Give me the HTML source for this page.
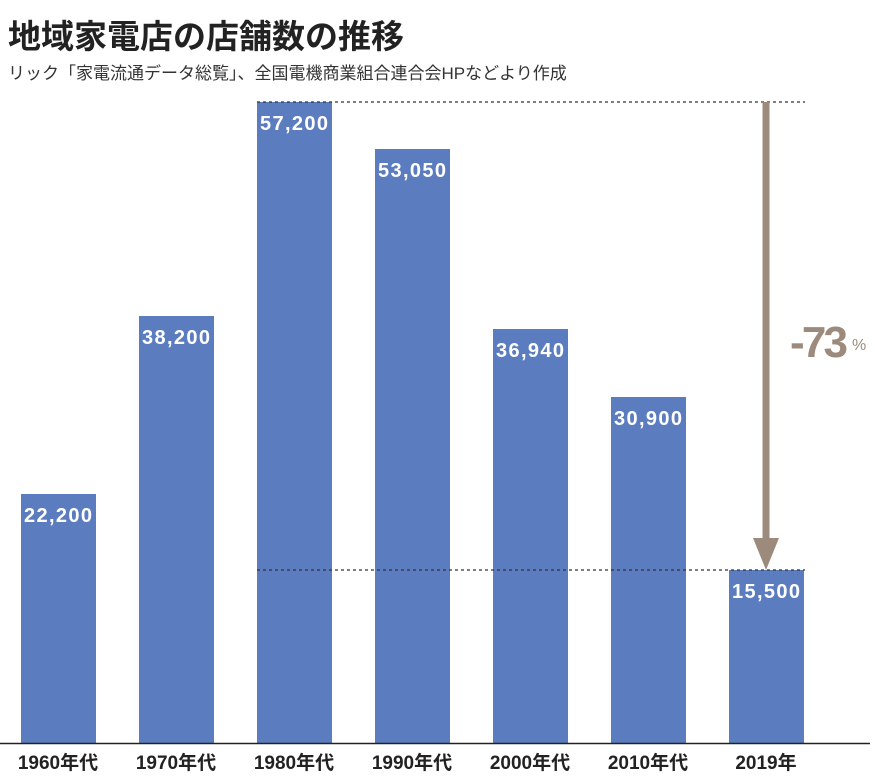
<!DOCTYPE html>
<html><head><meta charset="utf-8"><style>
html,body{margin:0;padding:0;background:#fff;}
svg{display:block;}
text{font-family:"Liberation Sans","Noto Sans CJK JP",sans-serif;}
</style></head><body>
<svg width="875" height="778" viewBox="0 0 875 778" xmlns="http://www.w3.org/2000/svg">
<text x="8" y="48" font-size="33" font-weight="bold" fill="#222">地域家電店の店舗数の推移</text>
<text x="8" y="79" font-size="17" fill="#333">リック「家電流通データ総覧」、全国電機商業組合連合会HPなどより作成</text>
<g fill="#5b7cbf">
<rect x="21" y="494" width="75" height="249"/>
<rect x="139" y="316" width="75" height="427"/>
<rect x="257" y="102" width="75" height="641"/>
<rect x="375" y="149" width="75" height="594"/>
<rect x="493" y="329" width="75" height="414"/>
<rect x="611" y="397" width="75" height="346"/>
<rect x="729" y="570" width="75" height="173"/>
</g>
<line x1="257" y1="102" x2="805" y2="102" stroke="#333" stroke-width="1.2" stroke-dasharray="3,3"/>
<line x1="257" y1="570" x2="805" y2="570" stroke="#333" stroke-width="1.2" stroke-dasharray="3,3"/>
<line x1="0" y1="743.5" x2="870" y2="743.5" stroke="#222" stroke-width="1.5"/>
<g fill="#fff" font-size="20" font-weight="bold" text-anchor="middle" textLength="68">
<text x="58" y="522" textLength="68">22,200</text>
<text x="176" y="344" textLength="68">38,200</text>
<text x="294" y="130" textLength="68">57,200</text>
<text x="412" y="177" textLength="68">53,050</text>
<text x="530" y="357" textLength="68">36,940</text>
<text x="648" y="425" textLength="68">30,900</text>
<text x="766" y="598" textLength="68">15,500</text>
</g>
<g fill="#222" font-size="19" font-weight="bold" text-anchor="middle">
<text x="58" y="769">1960年代</text>
<text x="176" y="769">1970年代</text>
<text x="294" y="769">1980年代</text>
<text x="412" y="769">1990年代</text>
<text x="530" y="769">2000年代</text>
<text x="648" y="769">2010年代</text>
<text x="766" y="769">2019年</text>
</g>
<rect x="762.5" y="102" width="7" height="440" fill="#9c8b7c"/>
<polygon points="753,538 779,538 766,570" fill="#9c8b7c"/>
<text x="790" y="357" font-size="44" font-weight="bold" fill="#9c8b7c" textLength="58">-73</text>
<text x="852" y="350" font-size="16" fill="#9c8b7c">%</text>
</svg>
</body></html>
